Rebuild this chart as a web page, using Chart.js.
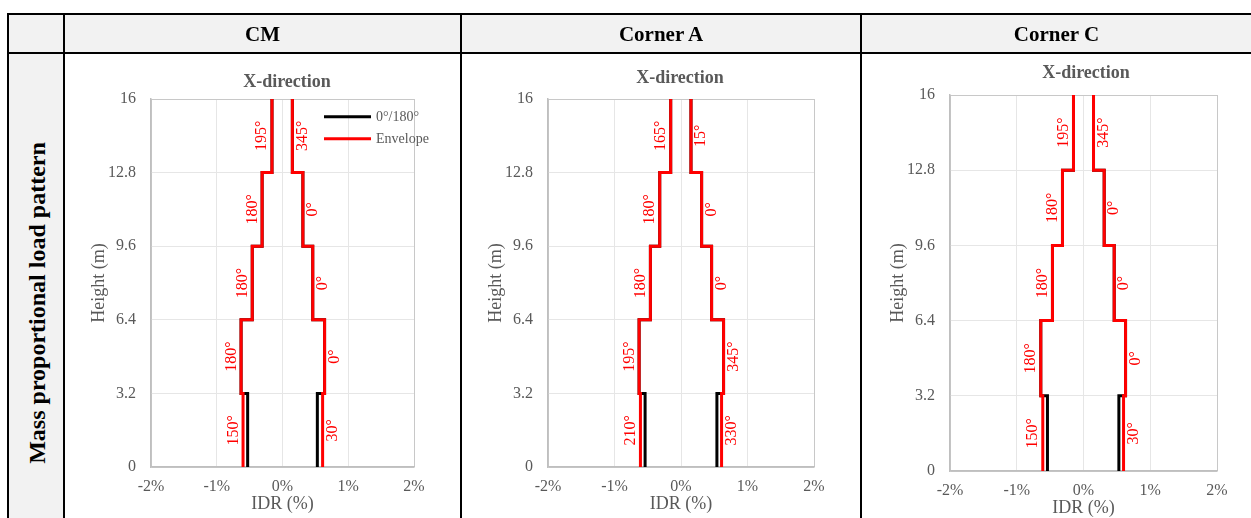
<!DOCTYPE html>
<html>
<head>
<meta charset="utf-8">
<script src="https://cdn.jsdelivr.net/npm/chart.js@4.4.1/dist/chart.umd.min.js"></script>
<style>
  body { margin: 0; width: 1251px; height: 518px; overflow: hidden; background: #fff; position: relative; font-family: "Liberation Serif", "Times New Roman", serif; }
  .fill { position: absolute; background: #f2f2f2; }
  .line { position: absolute; background: #000; z-index: 5; }
  .head { position: absolute; top: 14px; height: 39px; line-height: 41px; text-align: center; font-weight: bold; font-size: 21px; color: #000; z-index: 6; }
  #rowLabel { position: absolute; left: 37px; top: 303px; transform: translate(-50%, -50%) rotate(-90deg); font-weight: bold; font-size: 24px; white-space: nowrap; color: #000; z-index: 6; }
  canvas { position: absolute; z-index: 2; }
</style>
</head>
<body>
<div class="fill" style="left:8px;top:14px;width:1243px;height:39px"></div>
<div class="fill" style="left:8px;top:53px;width:56px;height:465px"></div>

<div class="line" style="left:7px;top:13px;width:1244px;height:2px"></div>
<div class="line" style="left:7px;top:52px;width:1244px;height:2px"></div>
<div class="line" style="left:7px;top:13px;width:2px;height:505px"></div>
<div class="line" style="left:63px;top:13px;width:2px;height:505px"></div>
<div class="line" style="left:460px;top:13px;width:2px;height:505px"></div>
<div class="line" style="left:860px;top:13px;width:2px;height:505px"></div>

<div class="head" style="left:65px;width:395px">CM</div>
<div class="head" style="left:462px;width:398px">Corner A</div>
<div class="head" style="left:862px;width:389px">Corner C</div>
<div id="rowLabel">Mass proportional load pattern</div>

<canvas id="chart-cm"></canvas>
<canvas id="chart-a"></canvas>
<canvas id="chart-c"></canvas>

<script>
// storey boundaries (m) and axis ticks
const heights = [0, 3.2, 6.4, 9.6, 12.8, 16];
const xTicks = [-2, -1, 0, 1, 2];
const seriesNames = ['0°/180°', 'Envelope'];

// CM  (values per storey, bottom to top, IDR in %)
const cmBaseLeft = [-0.53, -0.63, -0.46, -0.31, -0.16];
const cmBaseRight = [0.53, 0.64, 0.46, 0.31, 0.15];
const cmEnvLeft = [-0.60, -0.63, -0.46, -0.31, -0.16];
const cmEnvRight = [0.61, 0.64, 0.46, 0.31, 0.15];
const cmAnglesLeft = ['150°', '180°', '180°', '180°', '195°'];
const cmAnglesRight = ['30°', '0°', '0°', '0°', '345°'];

// Corner A
const aBaseLeft = [-0.54, -0.63, -0.46, -0.32, -0.155];
const aBaseRight = [0.54, 0.64, 0.46, 0.31, 0.15];
const aEnvLeft = [-0.61, -0.63, -0.46, -0.32, -0.155];
const aEnvRight = [0.61, 0.64, 0.46, 0.31, 0.15];
const aAnglesLeft = ['210°', '195°', '180°', '180°', '165°'];
const aAnglesRight = ['330°', '345°', '0°', '0°', '15°'];

// Corner C
const cBaseLeft = [-0.54, -0.64, -0.465, -0.315, -0.15];
const cBaseRight = [0.53, 0.63, 0.46, 0.31, 0.15];
const cEnvLeft = [-0.61, -0.64, -0.465, -0.315, -0.15];
const cEnvRight = [0.60, 0.63, 0.46, 0.31, 0.15];
const cAnglesLeft = ['150°', '180°', '180°', '180°', '195°'];
const cAnglesRight = ['30°', '0°', '0°', '0°', '345°'];

const FONT = '"Liberation Serif", "Times New Roman", serif';
const GREY = '#595959';

function stepPoints(vals) {
    const pts = [];
    vals.forEach((v, i) => {
        pts.push({ x: v, y: heights[i] });
        pts.push({ x: v, y: heights[i + 1] });
    });
    return pts;
}

// angle labels beside each storey, panel title and the small legend
const angleLabels = {
    id: 'angleLabels',
    afterDatasetsDraw(chart, args, opts) {
        const { ctx, chartArea, scales } = chart;
        const xs = scales.x, ys = scales.y;
        ctx.save();
        ctx.fillStyle = '#ff0000';
        ctx.font = '16px ' + FONT;
        ctx.textAlign = 'center';
        for (let i = 0; i < opts.left.length; i++) {
            const y = ys.getPixelForValue((heights[i] + heights[i + 1]) / 2);
            const xl = xs.getPixelForValue(opts.envLeft[i]);
            const xr = xs.getPixelForValue(opts.envRight[i]);
            ctx.save();
            ctx.translate(xl - 5.5, y);
            ctx.rotate(-Math.PI / 2);
            ctx.textBaseline = 'alphabetic';
            ctx.fillText(opts.left[i], 0, 0);
            ctx.restore();
            ctx.save();
            ctx.translate(xr + 2, y);
            ctx.rotate(-Math.PI / 2);
            ctx.textBaseline = 'top';
            ctx.fillText(opts.right[i], 0, 0);
            ctx.restore();
        }

        ctx.fillStyle = GREY;
        ctx.font = 'bold 18px ' + FONT;
        ctx.textBaseline = 'middle';
        ctx.fillText('X-direction', (chartArea.left + chartArea.right) / 2 + opts.titleDx, chartArea.top - opts.titleGap);

        if (opts.legend) {
            const colors = ['#000000', '#ff0000'];
            ctx.lineWidth = 3;
            ctx.font = '14px ' + FONT;
            ctx.textAlign = 'left';
            seriesNames.forEach((name, k) => {
                const ly = chartArea.top + 17.7 + k * 22;
                ctx.strokeStyle = colors[k];
                ctx.beginPath();
                ctx.moveTo(chartArea.left + 173, ly);
                ctx.lineTo(chartArea.left + 220, ly);
                ctx.stroke();
                ctx.fillStyle = GREY;
                ctx.fillText(name, chartArea.left + 225, ly + 1);
            });
        }
        ctx.restore();
    }
};

function edgeColor(scale, value) {
    return (value === scale.min || value === scale.max) ? '#c8c8c8' : '#e6e6e6';
}

function drawPanel(canvasId, box, series) {
    const padRight = 30;
    const canvas = document.getElementById(canvasId);
    canvas.width = 85 + box.w + padRight;
    canvas.height = 44 + box.h + 51;
    canvas.style.left = (box.left - 85) + 'px';
    canvas.style.top = (box.top - 44) + 'px';

    const lineStyle = { showLine: true, pointRadius: 0, borderWidth: 3, tension: 0, borderJoinStyle: 'miter', borderCapStyle: 'butt' };

    // red first so it is drawn on top of the black lines
    new Chart(canvas.getContext('2d'), {
        type: 'scatter',
        data: {
            datasets: [
                Object.assign({ label: seriesNames[1], data: stepPoints(series.envLeft), borderColor: '#ff0000' }, lineStyle),
                Object.assign({ label: seriesNames[1], data: stepPoints(series.envRight), borderColor: '#ff0000' }, lineStyle),
                Object.assign({ label: seriesNames[0], data: stepPoints(series.baseLeft), borderColor: '#000000' }, lineStyle),
                Object.assign({ label: seriesNames[0], data: stepPoints(series.baseRight), borderColor: '#000000' }, lineStyle)
            ]
        },
        options: {
            responsive: false,
            animation: false,
            layout: { padding: { left: 0, top: 44, right: padRight, bottom: 0 } },
            plugins: {
                legend: { display: false },
                tooltip: { enabled: false },
                angleLabels: {
                    left: series.anglesLeft, right: series.anglesRight,
                    envLeft: series.envLeft, envRight: series.envRight,
                    titleDx: box.titleDx, titleGap: box.titleGap, legend: box.legend
                }
            },
            scales: {
                x: {
                    type: 'linear', min: -2, max: 2,
                    afterBuildTicks: s => { s.ticks = xTicks.map(v => ({ value: v })); },
                    afterFit: s => { s.height = 51; },
                    grid: { drawTicks: false, lineWidth: 1, color: c => edgeColor(c.scale, c.tick.value) },
                    border: { color: '#bfbfbf', width: 1.5 },
                    ticks: { padding: 10, color: GREY, font: { family: FONT, size: 16 }, callback: v => v + '%' },
                    title: { display: true, text: 'IDR (%)', color: GREY, font: { family: FONT, size: 18 }, padding: { top: 0, bottom: 3 } }
                },
                y: {
                    type: 'linear', min: 0, max: 16,
                    afterBuildTicks: s => { s.ticks = heights.map(v => ({ value: v })); },
                    afterFit: s => { s.width = 85; },
                    grid: { drawTicks: false, lineWidth: 1, color: c => edgeColor(c.scale, c.tick.value) },
                    border: { color: '#bfbfbf', width: 1.5 },
                    ticks: { padding: 15, color: GREY, font: { family: FONT, size: 16 }, callback: v => String(v) },
                    title: { display: true, text: 'Height (m)', color: GREY, font: { family: FONT, size: 18 }, padding: { top: 22, bottom: 0 } }
                }
            }
        },
        plugins: [angleLabels]
    });
}

document.addEventListener('DOMContentLoaded', function () {
    drawPanel('chart-cm',
        { left: 151, top: 99, w: 263, h: 368, titleDx: 4.5, titleGap: 16.5, legend: true },
        { baseLeft: cmBaseLeft, baseRight: cmBaseRight, envLeft: cmEnvLeft, envRight: cmEnvRight, anglesLeft: cmAnglesLeft, anglesRight: cmAnglesRight });
    drawPanel('chart-a',
        { left: 548, top: 99, w: 266, h: 368, titleDx: -1, titleGap: 21, legend: false },
        { baseLeft: aBaseLeft, baseRight: aBaseRight, envLeft: aEnvLeft, envRight: aEnvRight, anglesLeft: aAnglesLeft, anglesRight: aAnglesRight });
    drawPanel('chart-c',
        { left: 950, top: 95, w: 267, h: 376, titleDx: 2.5, titleGap: 21.7, legend: false },
        { baseLeft: cBaseLeft, baseRight: cBaseRight, envLeft: cEnvLeft, envRight: cEnvRight, anglesLeft: cAnglesLeft, anglesRight: cAnglesRight });
});
</script>
</body>
</html>
